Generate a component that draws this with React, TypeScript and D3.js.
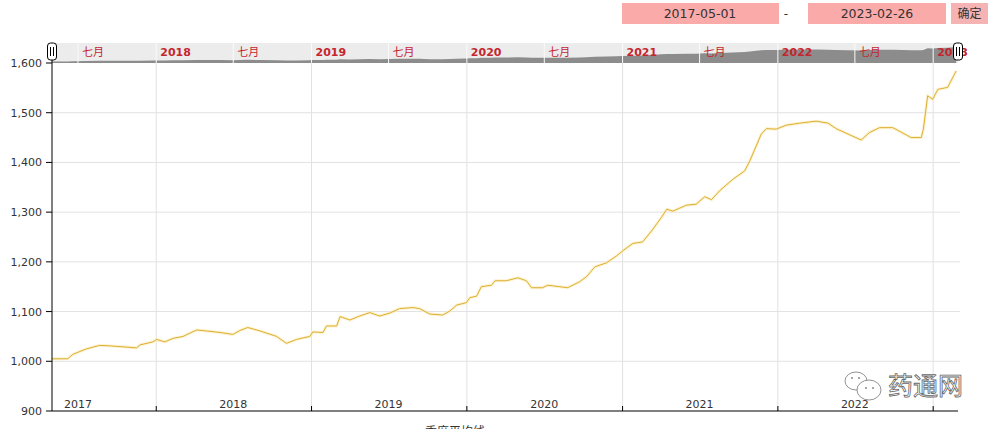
import React from "react";
import * as d3 from "d3";

const dates: string[] = [
  "2017-05-01","2017-06-07","2017-06-19","2017-07-21","2017-08-21","2017-09-14","2017-10-15","2017-11-16","2017-11-24","2017-12-24",
  "2018-01-02","2018-01-21","2018-02-09","2018-03-05","2018-04-06","2018-04-29","2018-05-31","2018-06-30","2018-07-17","2018-08-04",
  "2018-09-02","2018-10-11","2018-11-03","2018-11-27","2018-12-28","2019-01-04","2019-01-28","2019-02-05","2019-03-01","2019-03-09",
  "2019-04-01","2019-04-24","2019-05-18","2019-06-10","2019-07-04","2019-07-27","2019-08-27","2019-09-12","2019-10-06","2019-11-05",
  "2019-11-22","2019-12-08","2019-12-31","2020-01-08","2020-01-24","2020-02-04","2020-02-28","2020-03-07","2020-04-03","2020-04-30",
  "2020-05-20","2020-06-01","2020-06-27","2020-07-09","2020-08-06","2020-08-25","2020-09-22","2020-10-08","2020-10-28","2020-11-24",
  "2020-12-18","2021-01-01","2021-01-25","2021-02-17","2021-03-10","2021-04-02","2021-04-15","2021-04-29","2021-05-31","2021-06-23",
  "2021-07-13","2021-07-29","2021-08-17","2021-09-17","2021-10-15","2021-10-27","2021-11-11","2021-11-23","2021-12-05","2021-12-28",
  "2022-01-21","2022-02-21","2022-04-01","2022-04-29","2022-05-18","2022-06-15","2022-07-16","2022-08-04","2022-08-28","2022-09-28",
  "2022-10-22","2022-11-10","2022-12-04","2022-12-09","2022-12-19","2022-12-31","2023-01-12","2023-02-04","2023-02-24"
];

const values: number[] = [
  1005,1005,1014,1025,1032,1031,1029,1027,1033,1039,
  1044,1039,1046,1050,1063,1061,1058,1054,1062,1068,
  1061,1050,1036,1044,1050,1059,1058,1071,1071,1090,
  1083,1091,1098,1091,1097,1106,1108,1106,1095,1093,
  1101,1113,1118,1128,1131,1150,1153,1162,1162,1168,
  1162,1148,1148,1153,1150,1148,1160,1170,1190,1198,
  1212,1222,1237,1240,1262,1289,1306,1302,1314,1316,
  1331,1325,1343,1366,1383,1403,1433,1457,1468,1467,
  1475,1479,1483,1479,1468,1457,1445,1460,1470,1470,
  1459,1450,1450,1467,1534,1527,1547,1551,1584
];

const yTicks: number[] = [900, 1000, 1100, 1200, 1300, 1400, 1500, 1600];
const yearBoundaries: string[] = ["2018-01-01","2019-01-01","2020-01-01","2021-01-01","2022-01-01","2023-01-01"];
const yearLabels: string[] = ["2017","2018","2019","2020","2021","2022","2023"];
const navTicks: string[] = ["2017-07-01","2018-01-01","2018-07-01","2019-01-01","2019-07-01","2020-01-01","2020-07-01","2021-01-01","2021-07-01","2022-01-01","2022-07-01","2023-01-01"];
const navLabels: string[] = ["七月","2018","七月","2019","七月","2020","七月","2021","七月","2022","七月","2023"];
const rangeStart = "2017-05-01";
const rangeEnd = "2023-02-26";
const bottomTitle = "季度平均线";
const watermark = "药通网";

const parse = d3.utcParse("%Y-%m-%d");

export default function App() {
  const W = 991, H = 429;
  const left = 52, right = 957, top = 63, bottom = 411;
  const x = d3.scaleUtc().domain([parse(rangeStart)!, parse(rangeEnd)!]).range([left, right]);
  const y = d3.scaleLinear().domain([900, 1600]).range([bottom, top]);
  const navY = d3.scaleLinear().domain([1000, 1585]).range([61.5, 47]);
  const pts = dates.map((d, i) => ({ d: parse(d)!, v: values[i] }));
  const line = d3.line<{ d: Date; v: number }>().x(p => x(p.d)).y(p => y(p.v));
  const navArea = d3.area<{ d: Date; v: number }>().x(p => x(p.d)).y0(63).y1(p => navY(p.v));
  const font = "'DejaVu Sans', Verdana, sans-serif";
  const cjk = "'Noto Sans CJK SC', sans-serif";

  return (
    <svg width={W} height={H} style={{ position: "absolute", left: 0, top: 0, background: "#fff" }}>
      {/* top date range inputs */}
      <rect x={622} y={3} width={157} height={21} fill="#fbaaaa" />
      <text x={700} y={18} textAnchor="middle" fontFamily={font} fontSize={12.5} fill="#333">{rangeStart}</text>
      <text x={786} y={18} textAnchor="middle" fontFamily={font} fontSize={12} fill="#333">-</text>
      <rect x={808} y={3} width={138} height={21} fill="#fbaaaa" />
      <text x={877} y={18} textAnchor="middle" fontFamily={font} fontSize={12.5} fill="#333">{rangeEnd}</text>
      <rect x={951} y={3} width={37} height={21} fill="#f6b3b3" />
      <text x={969.5} y={18} textAnchor="middle" fontFamily={cjk} fontSize={12} fill="#333">确定</text>

      {/* navigator */}
      <rect x={left} y={43} width={right - left + 1} height={20} fill="#ececec" />
      <path d={navArea(pts) || ""} fill="#8c8c8c" />
      {navTicks.map((t, i) => (
        <line key={"nt" + i} x1={x(parse(t)!)} x2={x(parse(t)!)} y1={43} y2={63} stroke="#fafafa" strokeWidth={1} />
      ))}
      {navTicks.map((t, i) => {
        const isYear = navLabels[i] !== "七月";
        return (
          <text key={"nl" + i} x={x(parse(t)!) + 4} y={56} fontFamily={isYear ? font : cjk} fontSize={11}
            fontWeight={isYear ? "bold" : "normal"} fill="#c4262e">{navLabels[i]}</text>
        );
      })}

      {/* grid */}
      {yTicks.filter(v => v > 900 && v < 1600).map(v => (
        <line key={"hg" + v} x1={left} x2={right + 3} y1={y(v)} y2={y(v)} stroke="#e2e2e2" />
      ))}
      {yearBoundaries.map(t => (
        <line key={"vg" + t} x1={x(parse(t)!)} x2={x(parse(t)!)} y1={top} y2={bottom} stroke="#e2e2e2" />
      ))}

      {/* data line */}
      <path d={line(pts) || ""} fill="none" stroke="#fbeab0" strokeWidth={3} strokeOpacity={0.6} />
      <path d={line(pts) || ""} fill="none" stroke="#dcb032" strokeWidth={1} />

      {/* y axis */}
      <line x1={left} x2={left} y1={60} y2={bottom} stroke="#000" />
      {yTicks.map(v => (
        <g key={"yt" + v}>
          <line x1={left - 6} x2={left} y1={y(v)} y2={y(v)} stroke="#000" />
          <text x={left - 10} y={y(v) + 4} textAnchor="end" fontFamily={font} fontSize={11} fill="#333">{d3.format(",")(v)}</text>
        </g>
      ))}

      {/* x axis */}
      <line x1={left} x2={right + 1} y1={bottom} y2={bottom} stroke="#000" />
      {yearBoundaries.map(t => (
        <line key={"xt" + t} x1={x(parse(t)!)} x2={x(parse(t)!)} y1={bottom - 5} y2={bottom} stroke="#000" />
      ))}
      {yearLabels.map(yl => {
        const cx = x(parse(yl + "-07-01")!);
        return cx < right ? (
          <text key={"xl" + yl} x={cx} y={408} textAnchor="middle" fontFamily={font} fontSize={11} fill="#333">{yl}</text>
        ) : null;
      })}

      {/* handles */}
      {[left, right + 1].map((hx, i) => (
        <g key={"h" + i}>
          <rect x={hx - 4.5} y={43} width={9} height={17} rx={3} fill="#fff" stroke="#000" />
          <line x1={hx - 1.5} x2={hx - 1.5} y1={47} y2={56} stroke="#000" />
          <line x1={hx + 1.5} x2={hx + 1.5} y1={47} y2={56} stroke="#000" />
        </g>
      ))}

      {/* watermark */}
      <g fill="#fff" stroke="#777" strokeWidth={0.8}>
        <ellipse cx={856} cy={381} rx={11} ry={9} />
        <ellipse cx={869} cy={390} rx={12} ry={10} />
      </g>
      <g fill="#888">
        <circle cx={852} cy={378} r={1} />
        <circle cx={859} cy={378} r={1} />
        <circle cx={866} cy={388} r={1} />
        <circle cx={873} cy={388} r={1} />
      </g>
      <text x={888} y={395} fontFamily={cjk} fontSize={25} fill="#fff" stroke="#666" strokeWidth={0.8}>{watermark}</text>

      {/* bottom legend text (clipped at the edge, as in the reference) */}
      <text x={455} y={436} textAnchor="middle" fontFamily={cjk} fontSize={12} fill="#333">{bottomTitle}</text>
    </svg>
  );
}
